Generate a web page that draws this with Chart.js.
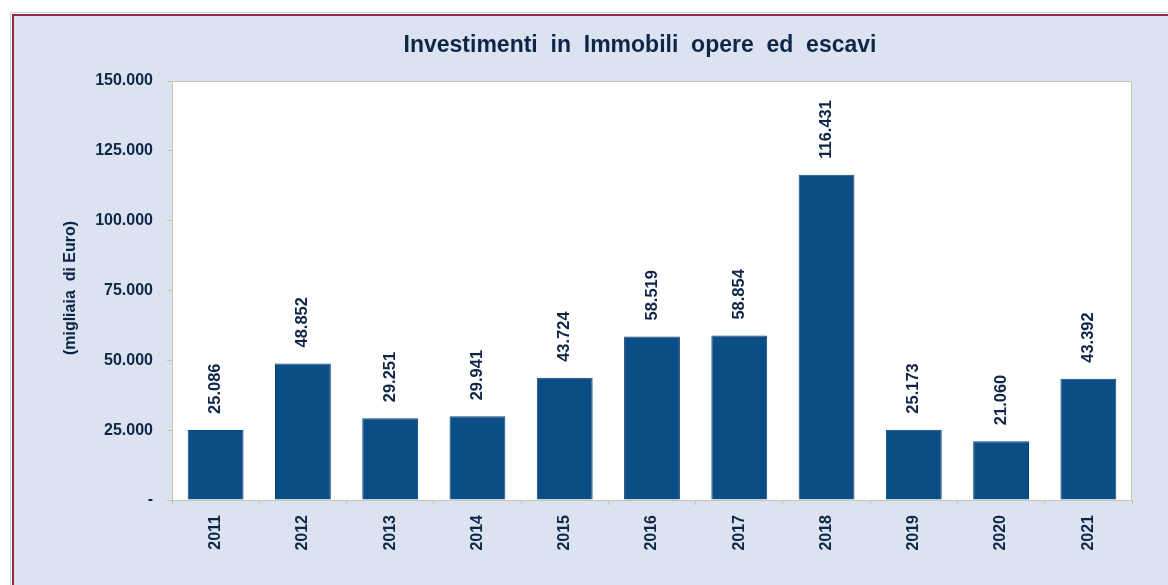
<!DOCTYPE html>
<html>
<head>
<meta charset="utf-8">
<script src="https://cdn.jsdelivr.net/npm/chart.js@4"></script>
<style>
  html, body { margin: 0; padding: 0; background: #fff; }
  #wrap { width: 1168px; height: 585px; }
</style>
</head>
<body>
<div id="wrap"><canvas id="chart" width="1168" height="585"></canvas></div>
<script>
// data
const years = ['2011', '2012', '2013', '2014', '2015', '2016', '2017', '2018', '2019', '2020', '2021'];
const investimenti = [25086, 48852, 29251, 29941, 43724, 58519, 58854, 116431, 25173, 21060, 43392];
const yTicks = [0, 25000, 50000, 75000, 100000, 125000, 150000];

const titleText = 'Investimenti  in  Immobili  opere  ed  escavi';
const yTitle = '(migliaia  di Euro)';

const navy = '#0f2548';
const axisColor = '#c9c5ab';
const FONT = '"Liberation Sans", Arial, sans-serif';

function fmt(v) {
    if (v === 0) return '-';
    return String(v).replace(/\B(?=(\d{3})+(?!\d))/g, '.');
}

// background, frame, white plot area, titles
const decor = {
    id: 'decor',
    beforeDraw(chart) {
        const c = chart.ctx;
        const a = chart.chartArea;
        c.save();
        c.fillStyle = '#ffffff';
        c.fillRect(0, 0, chart.width, chart.height);
        c.fillStyle = '#dae3ef';
        c.fillRect(12, 14, chart.width - 12, chart.height - 14);
        c.strokeStyle = '#c7d3e6';
        c.lineWidth = 1;
        c.beginPath();
        c.moveTo(10.5, 585); c.lineTo(10.5, 12.5); c.lineTo(chart.width, 12.5);
        c.stroke();
        c.strokeStyle = '#962a44';
        c.lineWidth = 2;
        c.beginPath();
        c.moveTo(13, 585); c.lineTo(13, 15); c.lineTo(chart.width, 15);
        c.stroke();
        c.fillStyle = '#ffffff';
        c.fillRect(a.left, a.top, a.right - a.left, a.bottom - a.top);

        c.fillStyle = navy;
        c.font = 'bold 23px ' + FONT;
        c.textAlign = 'center';
        c.textBaseline = 'middle';
        c.fillText(titleText, 640, 46);

        c.translate(71, 288);
        c.rotate(-Math.PI / 2);
        c.font = 'bold 16px ' + FONT;
        c.fillText(yTitle, 0, 0);
        c.restore();
    },
    beforeDatasetsDraw(chart) {
        const c = chart.ctx;
        const a = chart.chartArea;
        c.save();
        c.strokeStyle = axisColor;
        c.lineWidth = 1;
        c.strokeRect(a.left + 0.5, a.top + 0.5, a.right - a.left - 1, a.bottom - a.top);
        c.restore();
    },
    afterDatasetsDraw(chart) {
        const c = chart.ctx;
        const meta = chart.getDatasetMeta(0);
        c.save();
        c.fillStyle = navy;
        c.font = 'bold 16.5px ' + FONT;
        c.textAlign = 'left';
        c.textBaseline = 'middle';
        meta.data.forEach((bar, i) => {
            c.save();
            c.translate(bar.x, bar.y - 16);
            c.rotate(-Math.PI / 2);
            c.fillText(fmt(investimenti[i]), 0, 0);
            c.restore();
        });
        c.restore();
    }
};

const ctx = document.getElementById('chart').getContext('2d');

const chart = new Chart(ctx, {
    type: 'bar',
    data: {
        labels: years,
        datasets: [{
            data: investimenti,
            backgroundColor: '#0b4e85',
            borderColor: '#0a4679',
            borderWidth: 1,
            categoryPercentage: 1,
            barPercentage: 0.64,
        }],
    },
    options: {
        responsive: false,
        animation: false,
        layout: { padding: { top: 81, right: 36, left: 0, bottom: 0 } },
        plugins: {
            legend: { display: false },
            tooltip: { enabled: false },
            title: { display: false },
        },
        scales: {
            x: {
                grid: { display: true, drawOnChartArea: false, tickLength: 5, color: axisColor, offset: true },
                border: { color: axisColor },
                ticks: {
                    color: navy,
                    font: { family: FONT, size: 16, weight: 'bold' },
                    minRotation: 90,
                    maxRotation: 90,
                    padding: 10,
                },
                afterFit(scale) { scale.height = 85; },
            },
            y: {
                min: 0,
                max: 150000,
                afterBuildTicks(scale) { scale.ticks = yTicks.map(v => ({ value: v })); },
                grid: { display: true, drawOnChartArea: false, tickLength: 5, color: axisColor },
                border: { color: axisColor },
                ticks: {
                    color: navy,
                    font: { family: FONT, size: 16, weight: 'bold' },
                    padding: 14,
                    callback: v => fmt(v),
                },
                afterFit(scale) { scale.width = 172; },
            },
        },
    },
    plugins: [decor],
});
</script>
</body>
</html>
